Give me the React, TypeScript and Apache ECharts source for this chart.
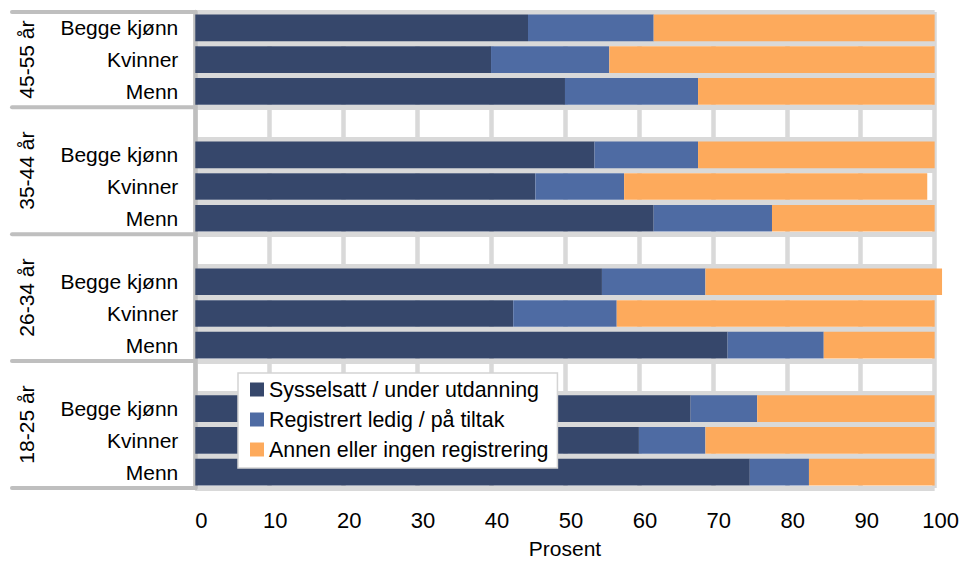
import React, { useEffect, useRef } from "react";
import * as echarts from "echarts";

const groupLabels = ["45-55 år", "35-44 år", "26-34 år", "18-25 år"];
const sexLabels = ["Begge kjønn", "Kvinner", "Menn"];
const seriesNames = [
  "Sysselsatt / under utdanning",
  "Registrert ledig / på tiltak",
  "Annen eller ingen registrering",
];
// per group (top to bottom), per sex [Begge kjønn, Kvinner, Menn]
const employed = [
  [45, 40, 50],
  [54, 46, 62],
  [55, 43, 72],
  [67, 60, 75],
];
const registered = [
  [17, 16, 18],
  [14, 12, 16],
  [14, 14, 13],
  [9, 9, 8],
];
const other = [
  [38, 44, 32],
  [32, 41, 22],
  [32, 43, 15],
  [24, 31, 17],
];
const xMin = 0;
const xMax = 100;
const xInterval = 10;
const axisTitle = "Prosent";
const colors = ["#36476B", "#4E6BA3", "#FDAA5C"];

type Row = { label: string; group: number; sex: number | null };
const rows: Row[] = [];
groupLabels.forEach((_g, gi) => {
  if (gi > 0) rows.push({ label: "", group: gi, sex: null });
  sexLabels.forEach((s, si) => rows.push({ label: s, group: gi, sex: si }));
});

const FONT = "'Liberation Sans', Arial, Helvetica, sans-serif";

export default function App() {
  const ref = useRef<HTMLDivElement>(null);
  useEffect(() => {
    if (!ref.current) return;
    const chart = echarts.init(ref.current, undefined, { renderer: "svg" });
    const valueSets = [employed, registered, other];
    const option: any = {
      animation: false,
      backgroundColor: "#ffffff",
      textStyle: { fontFamily: FONT },
      grid: { left: 195.3, right: 26.5, top: 12, bottom: 69, containLabel: false },
      legend: {
        orient: "vertical",
        left: 238,
        top: 373,
        data: seriesNames,
        icon: "rect",
        itemWidth: 14,
        itemHeight: 14,
        itemGap: 9,
        padding: [6, 9, 8, 12],
        backgroundColor: "#ffffff",
        borderColor: "#D4D4D4",
        borderWidth: 1.5,
        textStyle: { fontSize: 21.4, color: "#000", fontFamily: FONT, lineHeight: 21 },
        z: 20,
      },
      xAxis: {
        type: "value",
        min: xMin,
        max: xMax,
        interval: xInterval,
        axisLine: { show: false },
        axisTick: { show: false },
        axisLabel: {
          fontSize: 22,
          color: "#000",
          fontFamily: FONT,
          margin: 21,
          padding: [0, 0, 0, 12],
        },
        splitLine: { show: true, lineStyle: { color: "#D9D9D9", width: 4.5 } },
        name: axisTitle,
        nameLocation: "middle",
        nameGap: 50,
        nameTextStyle: { fontSize: 21, color: "#000", fontFamily: FONT },
      },
      yAxis: {
        type: "category",
        inverse: true,
        data: rows.map((_r, i) => String(i)),
        axisLine: { show: true, lineStyle: { color: "#BFBFBF", width: 4.5 } },
        axisTick: { show: false },
        axisLabel: {
          fontSize: 21,
          color: "#000",
          fontFamily: FONT,
          margin: 17,
          interval: 0,
          formatter: (v: string) => rows[Number(v)].label,
        },
        splitLine: {
          show: true,
          interval: 0,
          lineStyle: { color: "#D9D9D9", width: 5 },
        },
      },
      series: seriesNames.map((name, si) => ({
        name,
        type: "bar",
        stack: "total",
        clip: false,
        barCategoryGap: "16%",
        itemStyle: { color: colors[si] },
        data: rows.map((r) => (r.sex == null ? "-" : valueSets[si][r.group][r.sex])),
      })),
    };
    chart.setOption(option);

    // group labels and separators, positioned from the axis scales
    const yPix = (i: number) => chart.convertToPixel({ yAxisIndex: 0 }, i) as number;
    const x0 = chart.convertToPixel({ xAxisIndex: 0 }, xMin) as number;
    const band = yPix(1) - yPix(0);
    const graphics: any[] = [];
    const bounds: number[] = [];
    groupLabels.forEach((g, gi) => {
      const idx = rows.map((r, i) => (r.group === gi ? i : -1)).filter((i) => i >= 0);
      const top = yPix(idx[0]) - band / 2;
      const bottom = yPix(idx[idx.length - 1]) + band / 2;
      bounds.push(top);
      if (gi === groupLabels.length - 1) bounds.push(bottom);
      graphics.push({
        type: "text",
        x: 26.5,
        y: (top + bottom) / 2,
        rotation: Math.PI / 2,
        z: 30,
        style: {
          text: g,
          fontSize: 21,
          fontFamily: FONT,
          fill: "#000",
          align: "center",
          verticalAlign: "middle",
        },
      });
    });
    bounds.forEach((b) => {
      graphics.push({
        type: "line",
        z: 30,
        shape: { x1: 12, y1: b, x2: x0, y2: b },
        style: { stroke: "#BFBFBF", lineWidth: 4, lineCap: "round" },
      });
    });
    chart.setOption({ graphic: graphics });

    return () => chart.dispose();
  }, []);
  return (
    <div
      ref={ref}
      style={{ position: "fixed", left: 0, top: 0, width: 962, height: 564 }}
    />
  );
}
